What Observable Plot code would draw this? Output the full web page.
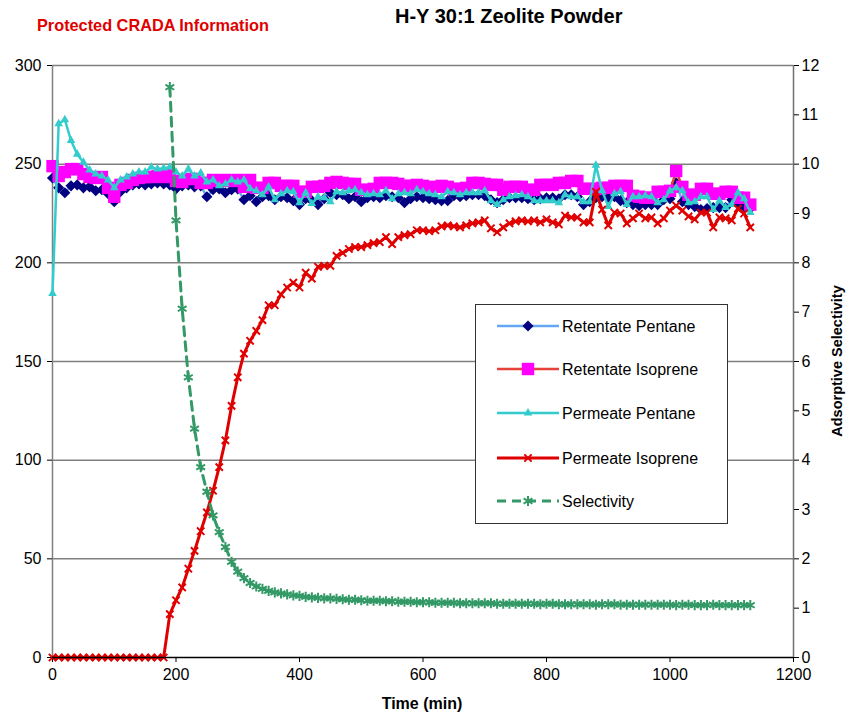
<!DOCTYPE html>
<html><head><meta charset="utf-8">
<script src="https://cdn.jsdelivr.net/npm/d3@7"></script>
<script src="https://cdn.jsdelivr.net/npm/@observablehq/plot@0.6"></script>
<style>
body{margin:0;background:#fff;font-family:"Liberation Sans",Arial,sans-serif;}
#wrap{position:relative;width:848px;height:717px;overflow:hidden;}
#wrap svg{position:absolute;left:0;top:0;}
.t{position:absolute;font-weight:bold;white-space:nowrap;}
</style></head><body>
<div id="wrap"></div>
<script>
// ---- data ----
const time = [0,10,20,30,40,50,60,70,80,90,100,110,120,130,140,150,160,170,180,190,
200,210,220,230,240,250,260,270,280,290,300,310,320,330,340,350,360,370,380,390,
400,410,420,430,440,450,460,470,480,490,500,510,520,530,540,550,560,570,580,590,
600,610,620,630,640,650,660,670,680,690,700,710,720,730,740,750,760,770,780,790,
800,810,820,830,840,850,860,870,880,890,900,910,920,930,940,950,960,970,980,990,
1000,1010,1020,1030,1040,1050,1060,1070,1080,1090,1100,1110,1120,1130];

const retentatePentane = [243,238,235.5,239,239.5,238,238.5,236.5,237,235,
231,236,238,239.5,240,239.5,240,240.5,240,239.5,
237.5,239,239.5,238.5,239,233.5,237,237.5,235.5,237,
237.5,232,234,231,233.5,234,232,233.5,233,231.5,
229.5,232.5,231.5,229.5,232.5,235.5,234.5,234.5,232.5,233.5,
231,233,233.5,233,234,233.5,233,230.5,232.5,233.5,
233,232.5,232,231.5,231.5,234,233.5,234,234.5,234.5,
234,232,230.5,232,233,233,233,232.5,232,232.5,
233,233,232.5,234.5,234.5,233.5,229.5,231,233,233.5,
233,233.5,231.5,230.5,229.5,229,229.5,229.5,229.5,232,
232.5,240.5,231,229.5,228.5,227,227.5,228,228,228,
232,230,228,227.5];

const retentateIsoprene = [249,244,246,247.5,247.5,245,243.5,243,243.5,238,
233.5,239.5,240.5,242,243,243.5,243.5,244,243.5,244.5,
241.5,241,242.5,242.5,240.5,240.5,242,241.5,242,241.5,
242,238.5,242,238,238,240.5,240.5,239,239,239,
236,236,238.5,238.5,239,240.5,241,240.5,240,240,
237,237,237.5,240.5,240.5,240.5,240,239,239,239.5,
239,238,238.5,239,238.5,237.5,237.5,238,240.5,240.5,
240,239.5,239.5,237,238.5,238.5,238.5,237,237,239.5,
239.5,239.5,240.5,240.5,241.5,241.5,237.5,237.5,237.5,238,
238,239,239,239,234,233.5,233,233,236,236,
236.5,246.5,238.5,234.5,234.5,237.5,237.5,235,235,236,
236,233,233,229.5];

const permeatePentane = [184.5,270.5,272.5,262,255,251,247,245,244,242,
238,242,243.5,245,246,246,248.5,247.5,248,248.5,
246,244,247.5,244,245.5,241,242,239,240,242,
241,242,237.5,236.5,234.5,238.5,232,235,236.5,236,
230.5,235.5,230,233.5,233,231,236,235.5,236.5,237,
235.5,234.5,235,234.5,236.5,232.5,235,235.5,235,237,
236,235,234.5,233.5,236,235.5,234.5,235.5,235.5,235.5,
236.5,231.5,229.5,232,233.5,234,234.5,233.5,231.5,231.5,
231.5,231.5,230.5,234.5,233.5,233.5,231,231,249.5,236.5,
228.5,235,236,229.5,233.5,233.5,234,233.5,230.5,232,
236.5,238,236.5,230.5,231,233.5,233.5,227,231.5,228,
229.5,235.5,232.5,225.5];

const permeateIsoprene = [0,0,0,0,0,0,0,0,0,0,
0,0,0,0,0,0,0,0,0,22,
29,35.5,45,54,64,73.5,84.5,96.5,110,127.5,
142,154,160.5,165.5,171,178.5,178.5,184,187.5,190,
187.5,195,192,198,198.5,198.5,203.5,205,207,208,
208,209,210,210.5,213,209.5,213,214,214.5,216.5,
216.5,216,216.5,218.5,219,218.5,218,219,220,220.5,
221.5,217.5,215.5,218,220,221,221.5,221,221.5,220.5,
222,220.5,219.5,224,223,223,220.5,220.5,236,227,
219,225.5,225,220,222.5,225,222.5,223,220,222.5,
226.5,229,226.5,223.5,222,225.5,225.5,218,223,222.5,
221.5,227.5,225,218];

// selectivity starts at t = 190 (index 19 of time)
const selectivity = [11.56,
8.86,7.07,5.68,4.64,3.86,3.36,2.88,2.54,2.24,1.94,
1.74,1.61,1.51,1.44,1.39,1.35,1.32,1.30,1.28,1.26,
1.25,1.23,1.22,1.21,1.20,1.20,1.19,1.18,1.17,1.17,
1.16,1.15,1.15,1.15,1.14,1.14,1.13,1.13,1.13,1.12,
1.12,1.12,1.11,1.11,1.11,1.11,1.10,1.10,1.10,1.10,
1.10,1.10,1.09,1.09,1.09,1.09,1.09,1.09,1.09,1.08,
1.09,1.09,1.08,1.08,1.08,1.08,1.08,1.08,1.07,1.08,
1.08,1.08,1.07,1.07,1.07,1.07,1.07,1.07,1.07,1.07,
1.07,1.06,1.07,1.07,1.06,1.06,1.06,1.07,1.06,1.06,
1.06,1.06,1.06,1.06];

const xTicks = [0,200,400,600,800,1000,1200];
const leftTicks = [0,50,100,150,200,250,300];
const rightTicks = [0,1,2,3,4,5,6,7,8,9,10,11,12];
const seriesNames = ["Retentate Pentane","Retentate Isoprene","Permeate Pentane","Permeate Isoprene","Selectivity"];
const titleText = "H-Y 30:1 Zeolite Powder";
const noteText = "Protected CRADA Information";
const xLabel = "Time (min)";
const y2Label = "Adsorptive Selectivity";

// ---- build tables ----
const K = 25; // secondary axis: 12 -> 300
const rows = (vals, t0 = 0) => vals.map((v, i) => ({t: time[i + t0], v}));
const rp = rows(retentatePentane), ri = rows(retentateIsoprene),
      pp = rows(permeatePentane), pi = rows(permeateIsoprene),
      se = rows(selectivity, 19).map(d => ({t: d.t, v: d.v * K}));

const styles = [
  {line: "#66a6f5", w: 2.5, dash: null, sym: "diamond2", r: 5.0, fill: "#000080", stroke: "none"},
  {line: "#e8413c", w: 2.5, dash: null, sym: "square", r: 7.0, fill: "#ff00ff", stroke: "none"},
  {line: "#33cccc", w: 2.5, dash: null, sym: "triangle", r: 3.2, fill: "#33cccc", stroke: "none"},
  {line: "#e00000", w: 3, dash: null, sym: "times", r: 3.4, fill: "none", stroke: "#e00000"},
  {line: "#339966", w: 3, dash: "9,6", sym: "asterisk", r: 4.8, fill: "none", stroke: "#339966"}
];
const tables = [rp, ri, pp, pi, se];

const seriesMarks = tables.flatMap((tb, k) => {
  const s = styles[k];
  return [
    Plot.line(tb, {x: "t", y: "v", stroke: s.line, strokeWidth: s.w, strokeDasharray: s.dash, strokeLinejoin: "round"}),
    Plot.dot(tb, {x: "t", y: "v", symbol: () => s.sym, r: s.r, fill: s.fill, stroke: s.stroke, strokeWidth: s.stroke === "none" ? 0 : 2})
  ];
});

const chart = Plot.plot({
  width: 848, height: 717,
  marginLeft: 52, marginRight: 55, marginTop: 65, marginBottom: 60,
  style: {fontFamily: "'Liberation Sans', Arial, sans-serif", fontSize: "16px", background: "white", color: "black", overflow: "visible"},
  x: {domain: [0, 1200]},
  y: {domain: [0, 300]},
  symbol: {type: "identity"},
  marks: [
    Plot.ruleY(leftTicks.filter(v => v > 0), {stroke: "#808080", strokeWidth: 1.5}),
    Plot.ruleX([0], {stroke: "#808080", strokeWidth: 1.5}),
    Plot.ruleX([1200], {stroke: "#707070", strokeWidth: 1.5}),
    Plot.axisX({ticks: xTicks, tickFormat: d3.format("d"), tickSize: 5, tickPadding: 6, label: null, stroke: "black"}),
    Plot.axisY({ticks: leftTicks, tickFormat: d3.format("d"), tickSize: 5, tickPadding: 6, label: null, anchor: "left"}),
    Plot.axisY({ticks: rightTicks.map(v => v * K), tickFormat: d => d / K, tickSize: 5, tickPadding: 3, label: null, anchor: "right"}),
    ...seriesMarks,
    Plot.ruleY([0], {stroke: "black", strokeWidth: 1.5})
  ]
});

const wrap = document.getElementById("wrap");
wrap.appendChild(chart);

const svg = d3.select(chart);
// axis titles
svg.append("text").attr("x", 422).attr("y", 709).attr("text-anchor", "middle")
  .attr("font-weight", "bold").attr("font-size", 16).text(xLabel);
svg.append("text").attr("transform", "translate(842,361) rotate(-90)").attr("text-anchor", "middle")
  .attr("font-weight", "bold").attr("font-size", 14.5).text(y2Label);

// legend
const lg = svg.append("g");
lg.append("rect").attr("x", 475.5).attr("y", 304.5).attr("width", 252).attr("height", 219)
  .attr("fill", "white").attr("stroke", "#333").attr("stroke-width", 1);
const symMap = {diamond2: d3.symbolDiamond2, square: d3.symbolSquare, triangle: d3.symbolTriangle, times: d3.symbolTimes, asterisk: d3.symbolAsterisk};
seriesNames.forEach((name, k) => {
  const s = styles[k];
  const y = [326, 369, 413, 458, 501][k];
  lg.append("line").attr("x1", 497).attr("x2", 559).attr("y1", y).attr("y2", y)
    .attr("stroke", s.line).attr("stroke-width", s.w).attr("stroke-dasharray", s.dash);
  lg.append("path").attr("transform", `translate(528,${y})`)
    .attr("d", d3.symbol(symMap[s.sym], Math.PI * s.r * s.r)())
    .attr("fill", s.fill).attr("stroke", s.stroke === "none" ? null : s.stroke).attr("stroke-width", 2);
  lg.append("text").attr("x", 562).attr("y", y + 5.5).attr("text-anchor", "start")
    .attr("font-size", 16).text(name);
});

// page titles
const t1 = document.createElement("div");
t1.className = "t"; t1.textContent = titleText;
Object.assign(t1.style, {left: "395px", top: "5px", fontSize: "20px", color: "black"});
wrap.appendChild(t1);
const t2 = document.createElement("div");
t2.className = "t"; t2.textContent = noteText;
Object.assign(t2.style, {left: "37px", top: "16px", fontSize: "16.3px", color: "#e00000"});
wrap.appendChild(t2);
</script>
</body></html>
